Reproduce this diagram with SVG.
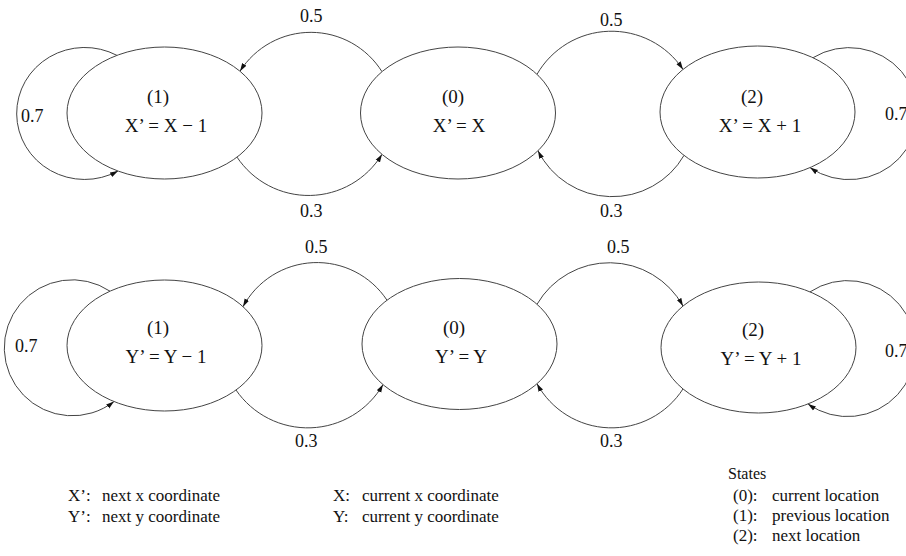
<svg xmlns="http://www.w3.org/2000/svg" width="906" height="556" viewBox="0 0 906 556">
<style>
.node{fill:#fff;stroke:#444;stroke-width:1}
.edge{fill:none;stroke:#444;stroke-width:1;marker-end:url(#arr)}
text{font-family:"Liberation Serif","Times New Roman",serif;fill:#111}
.nl{font-size:19px;text-anchor:middle}
.el{font-size:18px}
.lg{font-size:17px}
</style>
<defs>
<marker id="arr" markerUnits="userSpaceOnUse" markerWidth="9" markerHeight="6" refX="8" refY="3" orient="auto">
<path d="M0,0.5 L8,3 L0,5.5 z" fill="#111"/>
</marker>
</defs>
<rect width="906" height="556" fill="#fff"/>
<g id="connectors">
<path class="edge" d="M382,71.7 A84,84 0 0,0 240,71.2"/>
<path class="edge" d="M237,157.1 A86,86 0 0,0 382,154.3"/>
<path class="edge" d="M537,74.3 A86,86 0 0,1 683,69.4"/>
<path class="edge" d="M684,155.4 A83,83 0 0,1 538,150.7"/>
<path class="edge" d="M117,55.4 A68,66 0 1,0 118,171"/>
<path class="edge" d="M813,57.7 A68,66 0 1,1 810,167.6"/>
<path class="edge" d="M387,300.2 A84,84 0 0,0 243,306.7"/>
<path class="edge" d="M236,390 A87,87 0 0,0 383,384.6"/>
<path class="edge" d="M537,304.3 A84,84 0 0,1 683,306.1"/>
<path class="edge" d="M683,388.9 A85,85 0 0,1 537,383.7"/>
<path class="edge" d="M110,291.2 A68,68 0 1,0 114,401.5"/>
<path class="edge" d="M810,291.9 A68,68 0 1,1 808,403.9"/>
</g>
<g id="edge-labels" class="el">
<text x="300" y="22">0.5</text>
<text x="600" y="26">0.5</text>
<text x="300" y="217">0.3</text>
<text x="600" y="217">0.3</text>
<text x="21" y="122">0.7</text>
<text x="885" y="120">0.7</text>
<text x="305" y="253">0.5</text>
<text x="607" y="253">0.5</text>
<text x="295" y="447">0.3</text>
<text x="600" y="447">0.3</text>
<text x="15" y="352">0.7</text>
<text x="885" y="357">0.7</text>
</g>
<g id="x1">
<ellipse class="node" cx="164.5" cy="113" rx="97.5" ry="66"/>
<text class="nl" x="158" y="103">(1)</text>
<text class="nl" x="166" y="132">X’ = X − 1</text>
</g>
<g id="x0">
<ellipse class="node" cx="458" cy="113" rx="97.5" ry="66"/>
<text class="nl" x="453" y="103">(0)</text>
<text class="nl" x="459" y="132">X’ = X</text>
</g>
<g id="x2">
<ellipse class="node" cx="757.5" cy="112" rx="97.5" ry="66"/>
<text class="nl" x="752" y="103">(2)</text>
<text class="nl" x="760" y="132">X’ = X + 1</text>
</g>
<g id="y1">
<ellipse class="node" cx="164.5" cy="345.5" rx="97.5" ry="65.5"/>
<text class="nl" x="158" y="334">(1)</text>
<text class="nl" x="166" y="363">Y’ = Y − 1</text>
</g>
<g id="y0">
<ellipse class="node" cx="459.5" cy="344" rx="97.5" ry="65.5"/>
<text class="nl" x="454" y="334">(0)</text>
<text class="nl" x="461" y="363">Y’ = Y</text>
</g>
<g id="y2">
<ellipse class="node" cx="758.5" cy="347.5" rx="97.5" ry="65.5"/>
<text class="nl" x="753" y="336">(2)</text>
<text class="nl" x="761" y="365">Y’ = Y + 1</text>
</g>
<g id="legend" class="lg">
<text x="68" y="501">X’:</text><text x="102" y="501">next x coordinate</text>
<text x="68" y="522">Y’:</text><text x="102" y="522">next y coordinate</text>
<text x="333" y="501">X:</text><text x="362" y="501">current x coordinate</text>
<text x="333" y="522">Y:</text><text x="362" y="522">current y coordinate</text>
<text x="728" y="479" font-size="16">States</text>
<text x="733" y="501">(0):</text><text x="772" y="501">current location</text>
<text x="733" y="521">(1):</text><text x="772" y="521">previous location</text>
<text x="733" y="541">(2):</text><text x="772" y="541">next location</text>
</g>
</svg>
